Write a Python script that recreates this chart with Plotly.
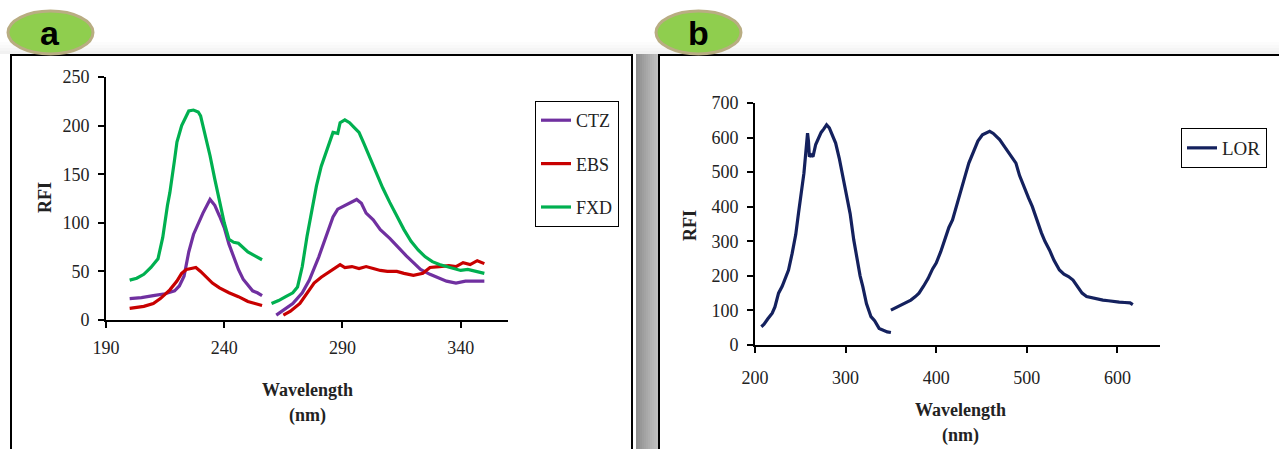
import plotly.graph_objects as go

W, H = 1279, 449

# ---------------- data ----------------
ctz_x1 = [200, 205, 210, 215, 219, 221, 223, 225, 227, 229, 231, 234, 236, 238, 240, 242, 244, 246, 248, 250, 252, 254, 256]
ctz_y1 = [22, 23, 25, 27, 30, 35, 45, 70, 88, 100, 110, 124, 118, 107, 95, 78, 65, 52, 42, 36, 30, 28, 25]
ctz_x2 = [262, 265, 269, 273, 276, 280, 283.5, 286, 288, 291, 294, 296, 298, 300, 303, 306, 310, 313, 317, 320, 323, 327, 330, 334, 338, 342, 346, 350]
ctz_y2 = [5, 10, 17, 28, 41, 65, 90, 106, 114, 118, 122, 124, 120, 110, 103, 93, 84, 76, 66, 59, 52, 47, 44, 40, 38, 40, 40, 40]

ebs_x1 = [200, 203, 206, 210, 213, 217, 220, 222, 224, 226, 228, 230, 232, 235, 238, 242, 246, 250, 253, 256]
ebs_y1 = [12, 13, 14, 17, 22, 31, 40, 48, 52, 53, 54, 50, 45, 38, 33, 28, 24, 19, 17, 15]
ebs_x2 = [265, 268, 272, 275, 278, 281, 284, 287, 289, 291, 294, 297, 300, 303, 306, 309, 313, 316, 320, 324, 327, 331, 335, 338, 341, 344, 347, 350]
ebs_y2 = [5, 9, 17, 28, 38, 44, 49, 54, 57, 54, 55, 53, 55, 53, 51, 50, 50, 48, 46, 48, 54, 55, 56, 55, 59, 57, 61, 58]

fxd_x1 = [200, 203, 206, 209, 212, 214, 216, 217, 219, 220, 222, 223, 225, 227, 229, 230, 232, 234, 236, 238, 240, 242, 244, 246, 248, 250, 253, 256]
fxd_y1 = [41, 43, 47, 54, 63, 85, 118, 131, 165, 183, 200, 205, 215, 216, 214, 210, 190, 169, 145, 121, 100, 83, 80, 79, 74, 70, 66, 62]
fxd_x2 = [260, 263, 266, 269, 271, 273, 275, 277, 279, 281, 283, 285, 286, 288, 289, 291, 293, 295, 297, 299, 301, 303, 305, 307, 310, 313, 316, 319, 322, 325, 328, 331, 334, 337, 340, 343, 346, 350]
fxd_y2 = [17, 20, 24, 28, 34, 55, 86, 112, 138, 158, 172, 185, 193, 192, 203, 206, 203, 198, 193, 182, 170, 160, 148, 136, 121, 107, 93, 81, 72, 65, 60, 57, 55, 53, 51, 52, 50, 48]

lor_x1 = [207, 210, 214, 219, 222, 226, 230, 234, 237, 241, 245, 248, 251, 254, 256, 258, 259, 260, 262, 264, 267, 270, 273, 276, 279, 282, 285, 289, 293, 297, 300, 305, 309, 313, 316, 319, 323, 328, 332, 337, 342, 346, 350]
lor_y1 = [53, 60, 75, 92, 110, 150, 170, 195, 217, 265, 320, 381, 440, 497, 555, 613, 590, 545, 550, 545, 580, 600, 615, 625, 637, 628, 610, 584, 540, 490, 449, 380, 304, 240, 200, 169, 120, 82, 70, 48, 42, 38, 36]
lor_x2 = [350, 355, 360, 366, 372, 377, 381, 386, 391, 396, 400, 405, 410, 414, 418, 423, 427, 432, 436, 441, 446, 451, 455, 459, 463, 467, 470, 475, 480, 484, 488, 492, 497, 502, 506, 511, 516, 520, 525, 530, 536, 541, 546, 551, 556, 561, 566, 572, 578, 584, 590, 596, 602, 608, 614, 617]
lor_y2 = [101, 108, 114, 121, 130, 140, 150, 170, 192, 220, 237, 270, 310, 340, 362, 410, 450, 490, 526, 560, 590, 608, 614, 618, 612, 600, 594, 575, 555, 538, 526, 490, 455, 425, 401, 360, 325, 300, 275, 245, 217, 205, 198, 188, 170, 150, 140, 136, 133, 130, 128, 125, 124, 123, 122, 117]

xticks_a = [190, 240, 290, 340]
yticks_a = [0, 50, 100, 150, 200, 250]
xticks_b = [200, 300, 400, 500, 600]
yticks_b = [0, 100, 200, 300, 400, 500, 600, 700]


def join(xa, ya, xb, yb):
    return xa + [None] + xb, ya + [None] + yb


def px(x):
    return x / W


def py(y):
    return 1 - y / H


SERIF = "Liberation Serif"
fig = go.Figure()

series_a = [("CTZ", "#7030a0", ctz_x1, ctz_y1, ctz_x2, ctz_y2),
            ("EBS", "#c80000", ebs_x1, ebs_y1, ebs_x2, ebs_y2),
            ("FXD", "#00b050", fxd_x1, fxd_y1, fxd_x2, fxd_y2)]
for name, col, xa, ya, xb, yb in series_a:
    xs, ys = join(xa, ya, xb, yb)
    fig.add_trace(go.Scatter(x=xs, y=ys, mode="lines", name=name, legendgroup=name,
                             line=dict(color=col, width=3.2), connectgaps=False,
                             xaxis="x", yaxis="y", legend="legend"))

xs, ys = join(lor_x1, lor_y1, lor_x2, lor_y2)
fig.add_trace(go.Scatter(x=xs, y=ys, mode="lines", name="LOR",
                         line=dict(color="#14215e", width=3.2), connectgaps=False,
                         xaxis="x2", yaxis="y2", legend="legend2"))

axis_common = dict(showline=True, linecolor="black", linewidth=2, ticks="outside",
                   ticklen=6, tickwidth=2, tickcolor="black", showgrid=False, zeroline=False,
                   automargin=False,
                   tickfont=dict(family=SERIF, size=18, color="#222"))

fig.update_layout(
    template="none",
    width=W, height=H, margin=dict(l=0, r=0, t=0, b=0, pad=0, autoexpand=False),
    paper_bgcolor="white", plot_bgcolor="rgba(0,0,0,0)", showlegend=True,
    xaxis=dict(domain=[px(106), px(508)], range=[190, 360], tickvals=xticks_a,
               anchor="y", ticklabelstandoff=4, **axis_common),
    yaxis=dict(domain=[py(320), py(77)], range=[0, 250], tickvals=yticks_a,
               anchor="x", ticklabelstandoff=5, **axis_common),
    xaxis2=dict(domain=[px(755), px(1160)], range=[200, 647], tickvals=xticks_b,
                anchor="y2", ticklabelstandoff=9, **axis_common),
    yaxis2=dict(domain=[py(345), py(103)], range=[0, 700], tickvals=yticks_b,
                anchor="x2", ticklabelstandoff=5, **axis_common),
    legend=dict(x=px(535), y=py(101), xanchor="left", yanchor="top",
                bordercolor="black", borderwidth=1, bgcolor="white",
                font=dict(family=SERIF, size=18, color="#222"),
                tracegroupgap=17, itemwidth=30, traceorder="grouped"),
    legend2=dict(x=px(1181), y=py(128), xanchor="left", yanchor="top",
                 bordercolor="black", borderwidth=1, bgcolor="white",
                 font=dict(family=SERIF, size=19, color="#222"), itemwidth=30),
)

shapes = []
# faint shadow above frames
for i, c in enumerate(["#fcfcfc", "#f9f9f9", "#f5f5f5", "#f1f1f1"]):
    shapes.append(dict(type="rect", xref="paper", yref="paper", x0=0, x1=1,
                       y0=py(42 + i * 3 + 3), y1=py(42 + i * 3), fillcolor=c, line_width=0, layer="below"))
# gray shadow band between the panels
band = ["#8e8e8e", "#939393", "#989898", "#9e9e9e", "#a3a3a3", "#a8a8a8", "#adadad",
        "#b2b2b2", "#b6b6b6", "#bababa", "#bebebe"]
for i, c in enumerate(band):
    shapes.append(dict(type="rect", xref="paper", yref="paper", x0=px(636 + 2 * i), x1=px(638 + 2 * i),
                       y0=0, y1=py(54), fillcolor=c, line_width=0, layer="below"))
# panel frames
shapes.append(dict(type="rect", xref="paper", yref="paper", x0=px(11), x1=px(632), y0=py(470), y1=py(55),
                   line=dict(color="black", width=2), fillcolor="white", layer="below"))
shapes.append(dict(type="rect", xref="paper", yref="paper", x0=px(659), x1=px(1300), y0=py(470), y1=py(55),
                   line=dict(color="black", width=2), fillcolor="white", layer="below"))
# label ovals
for x0 in (8, 656):
    shapes.append(dict(type="circle", xref="paper", yref="paper", x0=px(x0), x1=px(x0 + 85),
                       y0=py(54), y1=py(11), fillcolor="#8fce4e",
                       line=dict(color="#b9ad82", width=3), layer="above"))
fig.update_layout(shapes=shapes)

ann = []
ann.append(dict(text="<b>a</b>", x=px(50), y=py(33), font=dict(family="Liberation Sans", size=34, color="black")))
ann.append(dict(text="<b>b</b>", x=px(698), y=py(33), font=dict(family="Liberation Sans", size=34, color="black")))
ann.append(dict(text="<b>Wavelength</b>", x=px(307), y=py(390), font=dict(family=SERIF, size=18, color="#222")))
ann.append(dict(text="<b>(nm)</b>", x=px(307), y=py(415), font=dict(family=SERIF, size=18, color="#222")))
ann.append(dict(text="<b>Wavelength</b>", x=px(960), y=py(410), font=dict(family=SERIF, size=18, color="#222")))
ann.append(dict(text="<b>(nm)</b>", x=px(960), y=py(435), font=dict(family=SERIF, size=18, color="#222")))
ann.append(dict(text="<b>RFI</b>", x=px(45), y=py(198), textangle=-90, font=dict(family=SERIF, size=18, color="#222")))
ann.append(dict(text="<b>RFI</b>", x=px(690), y=py(225), textangle=-90, font=dict(family=SERIF, size=18, color="#222")))
for a in ann:
    a.update(xref="paper", yref="paper", showarrow=False, xanchor="center", yanchor="middle")
fig.update_layout(annotations=ann)

fig.write_html("out.html", config={"displayModeBar": False},
               post_script="document.body.style.margin='0px'; document.body.style.overflow='hidden';")
